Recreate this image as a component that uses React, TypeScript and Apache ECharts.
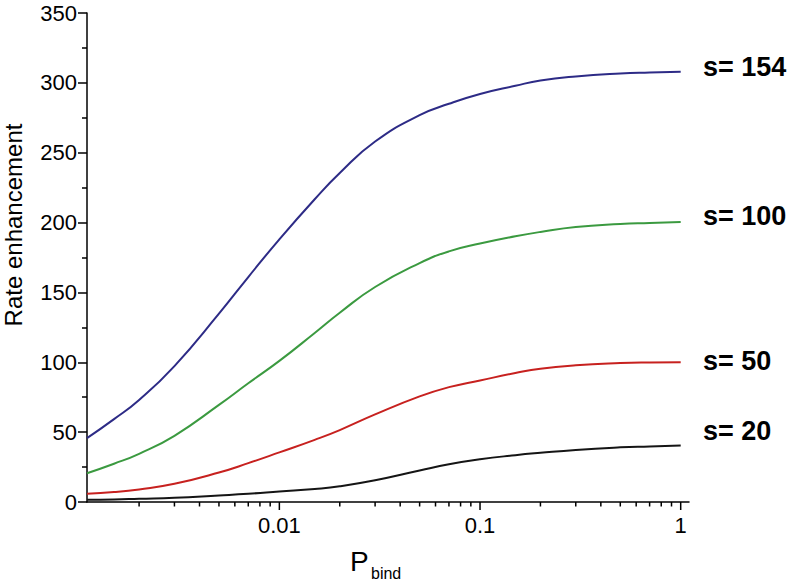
import React, { useEffect, useRef } from "react";
import * as echarts from "echarts";

const pBind = [0.0011, 0.0015, 0.002, 0.003, 0.005, 0.007, 0.01, 0.015, 0.02, 0.03, 0.05, 0.07, 0.1, 0.15, 0.2, 0.3, 0.5, 0.7, 1.0];
const s154 = [45.7, 59.3, 73, 97.3, 134.8, 161, 188, 216.7, 235.5, 258, 276.9, 285, 292, 297.9, 301.7, 304.6, 306.7, 307.4, 307.9];
const s100 = [20.6, 27.4, 34.5, 47.4, 69.5, 85, 101, 121, 135.5, 153.9, 171, 179.4, 185, 190.2, 193.3, 196.9, 199, 199.7, 200.4];
const s50 = [5.9, 7.1, 9, 13, 21.1, 27.8, 35.5, 44.5, 51.5, 62.7, 75.6, 82.2, 87, 92.3, 95.4, 97.8, 99.4, 99.9, 100.1];
const s20 = [1.6, 1.8, 2.3, 3, 4.7, 5.9, 7.5, 9.3, 11.2, 15.5, 22.5, 27, 30.6, 33.5, 35.2, 37.3, 39.1, 39.8, 40.5];

const seriesNames = ["s= 154", "s= 100", "s= 50", "s= 20"];
const seriesColors = ["#2d2b86", "#3b9a40", "#c7211f", "#151515"];

const majorTicks = [0.01, 0.1, 1];
const minorTicks = [0.002, 0.003, 0.004, 0.005, 0.006, 0.007, 0.008, 0.009, 0.02, 0.03, 0.04, 0.05, 0.06, 0.07, 0.08, 0.09, 0.2, 0.3, 0.4, 0.5, 0.6, 0.7, 0.8, 0.9];

const FONT = "'Liberation Sans', Arial, Helvetica, sans-serif";

export default function App() {
  const ref = useRef<HTMLDivElement>(null);
  useEffect(() => {
    if (!ref.current) return;
    const chart = echarts.init(ref.current, null, { renderer: "svg" });
    const all = [s154, s100, s50, s20];
    const tickData = [
      ...majorTicks.map((v) => [v, 0, 1]),
      ...minorTicks.map((v) => [v, 0, 0]),
    ];
    const labelY = [68, 217, 362, 432];
    chart.setOption({
      animation: false,
      backgroundColor: "#ffffff",
      grid: { left: 87, right: 108, top: 13, bottom: 80, containLabel: false, outerBoundsMode: "none" },
      xAxis: {
        type: "log",
        logBase: 10,
        min: 0.0011,
        max: 1.1,
        axisLine: { show: true, onZero: false, lineStyle: { color: "#000", width: 1.5 } },
        axisTick: { show: false },
        minorTick: { show: false },
        splitLine: { show: false },
        axisLabel: {
          showMinLabel: false,
          showMaxLabel: false,
          color: "#000",
          fontSize: 22,
          fontFamily: FONT,
          margin: 12,
          formatter: (v: number) => String(v),
        },
      },
      yAxis: {
        type: "value",
        min: 0,
        max: 350,
        interval: 50,
        axisLine: { show: true, lineStyle: { color: "#000", width: 1.5 } },
        axisTick: { show: true, length: 9, lineStyle: { color: "#000", width: 1.5 } },
        minorTick: { show: true, splitNumber: 2, length: 5, lineStyle: { color: "#000", width: 1.5 } },
        splitLine: { show: false },
        axisLabel: { color: "#000", fontSize: 22, fontFamily: FONT, margin: 10 },
      },
      series: [
        ...all.map((vals, i) => ({
          name: seriesNames[i],
          type: "line",
          data: pBind.map((x, j) => [x, vals[j]]),
          smooth: 0.5,
          showSymbol: false,
          symbol: "none",
          lineStyle: { color: seriesColors[i], width: 2 },
          itemStyle: { color: seriesColors[i] },
          z: 3,
        })),
        {
          type: "custom",
          clip: false,
          silent: true,
          data: tickData,
          encode: { x: 0, y: 1 },
          renderItem: (_params: any, api: any) => {
            const p = api.coord([api.value(0), 0]);
            const len = api.value(2) ? 8 : 4.5;
            return {
              type: "line",
              shape: { x1: p[0], y1: p[1], x2: p[0], y2: p[1] + len },
              style: { stroke: "#000", lineWidth: 1.5 },
            };
          },
          z: 4,
        },
      ],
      graphic: [
        ...seriesNames.map((n, i) => ({
          type: "text",
          left: 703,
          top: labelY[i] - 15,
          style: { text: n, fill: "#000", font: `bold 27px ${FONT}` },
        })),
        {
          type: "text",
          x: 13,
          y: 225,
          rotation: Math.PI / 2,
          style: {
            text: "Rate enhancement",
            fill: "#000",
            font: `24px ${FONT}`,
            textAlign: "center",
            textVerticalAlign: "middle",
          },
        },
        {
          type: "text",
          left: 350,
          top: 547,
          style: { text: "P", fill: "#000", font: `28px ${FONT}` },
        },
        {
          type: "text",
          left: 371,
          top: 565,
          style: { text: "bind", fill: "#000", font: `16px ${FONT}` },
        },
      ],
    });
    return () => chart.dispose();
  }, []);
  return <div ref={ref} style={{ position: "fixed", left: 0, top: 0, width: 797, height: 582 }} />;
}
